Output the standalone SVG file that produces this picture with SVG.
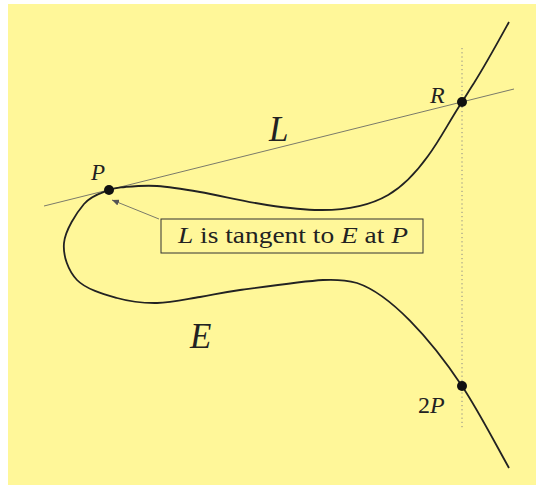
<svg xmlns="http://www.w3.org/2000/svg" width="536" height="485" viewBox="0 0 536 485">
<style>
.t{font-family:"Liberation Serif","DejaVu Serif",serif;fill:#222}
.i{font-style:italic}
.curve{fill:none;stroke:#222;stroke-width:1.8}
.thin{fill:none;stroke:#7a7a6a;stroke-width:1}
.dot{fill:#111}
</style>
<defs>
<marker id="ah" markerWidth="8" markerHeight="6" refX="7" refY="3" orient="auto" markerUnits="userSpaceOnUse">
<path d="M0,0 L7,3 L0,6 Z" fill="#555"/>
</marker>
</defs>
<rect x="8" y="4" width="528" height="481" fill="#fff799"/>
<g id="connectors">
<line class="thin" x1="44" y1="206" x2="514" y2="89"/>
<line x1="462" y1="48" x2="462" y2="428" stroke="#888" stroke-width="1" stroke-dasharray="1.2 3"/>
<line class="thin" x1="159" y1="219" x2="112" y2="200" marker-end="url(#ah)"/>
</g>
<g id="curveE">
<path class="curve" d="M509,22 C498,42 486,64 474,83 L474,83 C470,89 466,96 462,102 C450,120 440,140 428,156 L428,156 C405,188 380,210 322,210 C306.5,210.3 287.3,208 267,205 C246.7,202 218.3,195.2 200,192 C181.7,188.8 169.5,186.8 157,186 C144.5,185.2 133,186.3 125,187 C117,187.7 115.8,187.2 109,190 C102.2,192.8 91.5,195.2 84,204 C76.5,212.8 65.2,230.3 64,243 C62.8,255.7 68.2,270.8 77,280 C85.8,289.2 103.7,294.2 117,298 C130.3,301.8 143.2,303.2 157,303 C170.8,302.8 186.2,299.2 200,297 C213.8,294.8 219.5,292.8 240,290 C260.5,287.2 303.5,281.2 323,280 C336,279.3 346,280 357,283 C390,294 430,338 462,386 C478,410 495,443 509,468"/>
<text class="t i" x="190" y="348" font-size="35">E</text>
</g>
<g id="lineL">
<text class="t i" x="269" y="141" font-size="35">L</text>
</g>
<g id="nodeP">
<circle class="dot" cx="109" cy="190" r="5"/>
<text class="t i" x="91" y="180" font-size="23">P</text>
</g>
<g id="nodeR">
<circle class="dot" cx="462" cy="102" r="5"/>
<text class="t i" x="430" y="103" font-size="24">R</text>
</g>
<g id="node2P">
<circle class="dot" cx="462" cy="386" r="5"/>
<text class="t" x="418" y="413" font-size="24">2<tspan class="i">P</tspan></text>
</g>
<g id="label">
<rect x="161" y="219" width="262" height="34" fill="#fff799" stroke="#333" stroke-width="1"/>
<text class="t" x="178" y="243" font-size="23.5" textLength="230" lengthAdjust="spacingAndGlyphs"><tspan class="i">L</tspan> is tangent to <tspan class="i">E</tspan> at <tspan class="i">P</tspan></text>
</g>
</svg>
